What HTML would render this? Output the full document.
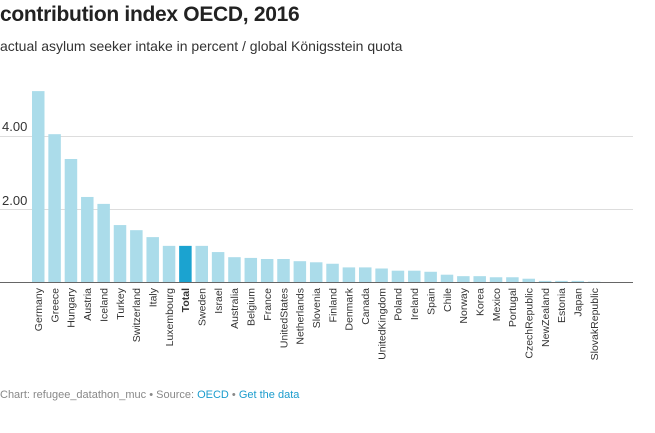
<!DOCTYPE html><html><head><style>
body{margin:0;width:655px;height:433px;background:#fff;font-family:"Liberation Sans",sans-serif;overflow:hidden;position:relative}
.t{position:absolute;left:0;top:3px;font-size:21px;font-weight:bold;color:#222;letter-spacing:-0.3px}
.s{position:absolute;left:0;top:38px;font-size:14px;color:#333}
.f{position:absolute;left:0;top:389px;font-size:11px;color:#888}
.f a{color:#1b9ccd;text-decoration:none}
</style></head><body>
<div class="t">contribution index OECD, 2016</div>
<div class="s">actual asylum seeker intake in percent / global Königsstein quota</div>
<svg width="655" height="433" style="position:absolute;left:0;top:0">
<g stroke="#ddd" stroke-width="1"><line x1="0" x2="633" y1="136.5" y2="136.5"/><line x1="0" x2="633" y1="209.5" y2="209.5"/></g>
<g font-size="13" fill="#333"><text x="2" y="131">4.00</text><text x="2" y="205">2.00</text></g>
<g id="bars"></g>
<line x1="0" x2="633" y1="282.5" y2="282.5" stroke="#666" stroke-width="1"/>
<g id="labels" font-size="10.5" fill="#333"></g>
</svg>
<div class="f">Chart: refugee_datathon_muc • Source: <a>OECD</a> • <a>Get the data</a></div>
<script>
var d=[["Germany",5.23],["Greece",4.05],["Hungary",3.37],["Austria",2.33],["Iceland",2.14],["Turkey",1.56],["Switzerland",1.42],["Italy",1.23],["Luxembourg",0.99],["Total",0.99],["Sweden",0.99],["Israel",0.82],["Australia",0.68],["Belgium",0.66],["France",0.63],["UnitedStates",0.63],["Netherlands",0.57],["Slovenia",0.54],["Finland",0.5],["Denmark",0.4],["Canada",0.4],["UnitedKingdom",0.37],["Poland",0.31],["Ireland",0.31],["Spain",0.28],["Chile",0.2],["Norway",0.16],["Korea",0.16],["Mexico",0.13],["Portugal",0.13],["CzechRepublic",0.09],["NewZealand",0.03],["Estonia",0.03],["Japan",0.03],["SlovakRepublic",0.01]];
var b="",l="";
d.forEach(function(e,i){var c=38+i*16.35,h=e[1]*36.5;
b+='<rect x="'+(c-6)+'" y="'+(282-h)+'" width="12.5" height="'+h+'" fill="'+(e[0]=="Total"?"#1ba3d0":"#abdcea")+'"/>';
l+='<text transform="translate('+(c+4)+',288) rotate(-90)" text-anchor="end"'+(e[0]=="Total"?' font-weight="bold"':'')+'>'+e[0]+'</text>';});
document.getElementById("bars").innerHTML=b;document.getElementById("labels").innerHTML=l;
</script>
</body></html>
